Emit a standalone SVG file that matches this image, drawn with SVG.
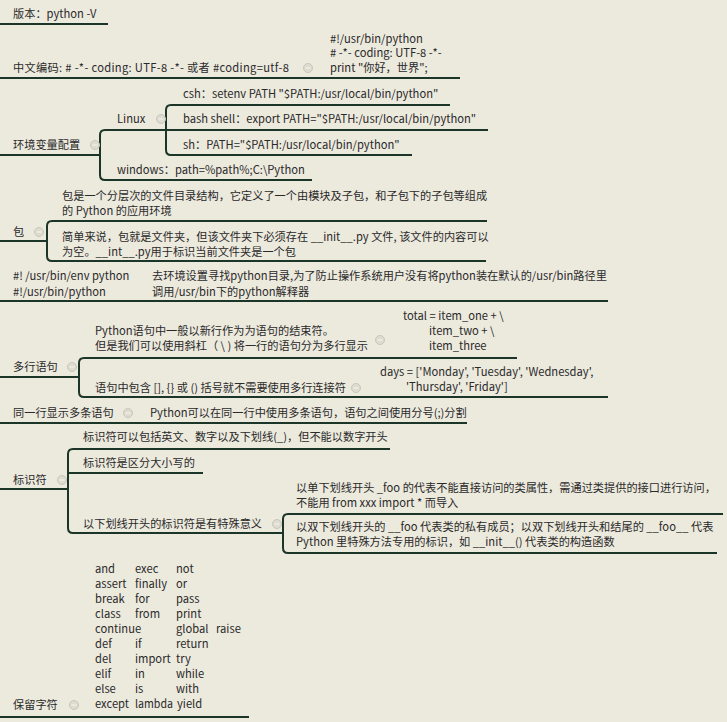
<svg xmlns="http://www.w3.org/2000/svg" width="727" height="722" viewBox="0 0 727 722">
<style>
text{font-family:"Noto Sans CJK SC","Microsoft YaHei","Liberation Sans",sans-serif;font-size:11.2px;fill:#2a2a2a}
.ln{fill:none;stroke:#1b3528;stroke-width:2;stroke-linecap:butt}
.tg circle{fill:#dedbd0;stroke:#c9c6ba;stroke-width:1}
.tg line{stroke:#f4f2ea;stroke-width:1.2}
</style>
<defs>
<g id="tog" class="tg"><circle r="4.5"/><line x1="-2.5" y1="0" x2="2.5" y2="0"/></g>
</defs>
<rect width="727" height="722" fill="#ECE9DD"/>

<g id="connectors">
<path class="ln" d="M0,24 H108"/>
<path class="ln" d="M0,78 H460"/>
<path class="ln" d="M0,155 H100"/>
<path class="ln" d="M488,130 H105 Q100,130 100,135 V175 Q100,180 105,180 H312"/>
<path class="ln" d="M450,105 H171 Q166,105 166,110 V150 Q166,155 171,155 H412"/>
<path class="ln" d="M0,241 H47"/>
<path class="ln" d="M487,221 H52 Q47,221 47,226 V256 Q47,261 52,261 H486"/>
<path class="ln" d="M0,301 H608"/>
<path class="ln" d="M0,377 H79"/>
<path class="ln" d="M517,358 H84 Q79,358 79,363 V392 Q79,397 84,397 H608"/>
<path class="ln" d="M0,423 H467"/>
<path class="ln" d="M0,489 H68"/>
<path class="ln" d="M390,449 H73 Q68,449 68,454 V528 Q68,533 73,533 H283"/>
<path class="ln" d="M68,473 H203"/>
<path class="ln" d="M723,514 H288 Q283,514 283,519 V548 Q283,553 288,553 H717"/>
<path class="ln" d="M0,717 H249"/>
</g>

<g id="n-version"><text x="13" y="18">版本：python -V</text></g>

<g id="n-encoding">
<text x="13" y="72" textLength="276" lengthAdjust="spacing">中文编码: # -*- coding: UTF-8 -*- 或者 #coding=utf-8</text>
<use href="#tog" x="308" y="68"/>
</g>
<g id="n-encoding-code">
<text x="330" y="43">#!/usr/bin/python</text>
<text x="330" y="57"># -*- coding: UTF-8 -*-</text>
<text x="330" y="72">print "你好，世界";</text>
</g>

<g id="n-env">
<text x="13" y="149">环境变量配置</text>
<use href="#tog" x="95" y="145"/>
</g>
<g id="n-linux">
<text x="117" y="123">Linux</text>
<use href="#tog" x="161" y="119"/>
</g>
<g id="n-csh"><text x="183" y="98">csh：setenv PATH "$PATH:/usr/local/bin/python"</text></g>
<g id="n-bash"><text x="183" y="123">bash shell：export PATH="$PATH:/usr/local/bin/python"</text></g>
<g id="n-sh"><text x="183" y="149">sh：PATH="$PATH:/usr/local/bin/python"</text></g>
<g id="n-windows"><text x="117" y="174">windows：path=%path%;C:\Python</text></g>

<g id="n-bao">
<text x="13" y="236">包</text>
<use href="#tog" x="39" y="232"/>
</g>
<g id="n-bao-1">
<text x="62" y="200">包是一个分层次的文件目录结构，它定义了一个由模块及子包，和子包下的子包等组成</text>
<text x="62" y="215">的 Python 的应用环境</text>
</g>
<g id="n-bao-2">
<text x="62" y="241">简单来说，包就是文件夹，但该文件夹下必须存在 __init__.py 文件, 该文件的内容可以</text>
<text x="62" y="256">为空。__int__.py用于标识当前文件夹是一个包</text>
</g>

<g id="n-shebang">
<text x="13" y="280">#! /usr/bin/env python</text>
<text x="13" y="296">#!/usr/bin/python</text>
<text x="152" y="280">去环境设置寻找python目录,为了防止操作系统用户没有将python装在默认的/usr/bin路径里</text>
<text x="152" y="296">调用/usr/bin下的python解释器</text>
</g>

<g id="n-multiline">
<text x="13" y="371">多行语句</text>
<use href="#tog" x="72" y="367"/>
</g>
<g id="n-ml-1">
<text x="95" y="335">Python语句中一般以新行作为为语句的结束符。</text>
<text x="95" y="350">但是我们可以使用斜杠（ \ ) 将一行的语句分为多行显示</text>
<use href="#tog" x="380" y="340"/>
</g>
<g id="n-ml-1-code">
<text x="403" y="320">total = item_one + \</text>
<text x="429" y="335">item_two + \</text>
<text x="429" y="350">item_three</text>
</g>
<g id="n-ml-2">
<text x="95" y="392">语句中包含 [], {} 或 () 括号就不需要使用多行连接符</text>
<use href="#tog" x="356" y="388"/>
</g>
<g id="n-ml-2-code">
<text x="380" y="376">days = ['Monday', 'Tuesday', 'Wednesday',</text>
<text x="406" y="391">'Thursday', 'Friday']</text>
</g>

<g id="n-sameline">
<text x="13" y="417">同一行显示多条语句</text>
<use href="#tog" x="128" y="413"/>
</g>
<g id="n-sameline-1"><text x="150" y="417">Python可以在同一行中使用多条语句，语句之间使用分号(;)分割</text></g>

<g id="n-ident">
<text x="13" y="484">标识符</text>
<use href="#tog" x="62" y="480"/>
</g>
<g id="n-ident-1"><text x="83" y="441">标识符可以包括英文、数字以及下划线(_)，但不能以数字开头</text></g>
<g id="n-ident-2"><text x="83" y="467">标识符是区分大小写的</text></g>
<g id="n-ident-3">
<text x="83" y="528">以下划线开头的标识符是有特殊意义</text>
<use href="#tog" x="277" y="524"/>
</g>
<g id="n-ident-3-1">
<text x="296" y="492">以单下划线开头 _foo 的代表不能直接访问的类属性，需通过类提供的接口进行访问，</text>
<text x="296" y="507">不能用 from xxx import * 而导入</text>
</g>
<g id="n-ident-3-2">
<text x="296" y="531">以双下划线开头的 __foo 代表类的私有成员；以双下划线开头和结尾的 __foo__ 代表</text>
<text x="296" y="546">Python 里特殊方法专用的标识，如 __init__() 代表类的构造函数</text>
</g>

<g id="n-reserved">
<text x="13" y="709">保留字符</text>
<use href="#tog" x="74" y="705"/>
</g>
<g id="n-keywords">
<text x="95" y="573">and</text><text x="135" y="573">exec</text><text x="176" y="573">not</text>
<text x="95" y="588">assert</text><text x="135" y="588">finally</text><text x="176" y="588">or</text>
<text x="95" y="603">break</text><text x="135" y="603">for</text><text x="176" y="603">pass</text>
<text x="95" y="618">class</text><text x="135" y="618">from</text><text x="176" y="618">print</text>
<text x="95" y="633">continue</text><text x="176" y="633">global</text><text x="216" y="633">raise</text>
<text x="95" y="648">def</text><text x="135" y="648">if</text><text x="176" y="648">return</text>
<text x="95" y="663">del</text><text x="135" y="663">import</text><text x="176" y="663">try</text>
<text x="95" y="678">elif</text><text x="135" y="678">in</text><text x="176" y="678">while</text>
<text x="95" y="693">else</text><text x="135" y="693">is</text><text x="176" y="693">with</text>
<text x="95" y="708">except</text><text x="135" y="708" textLength="38" lengthAdjust="spacingAndGlyphs">lambda</text><text x="177" y="708">yield</text>
</g>
</svg>
